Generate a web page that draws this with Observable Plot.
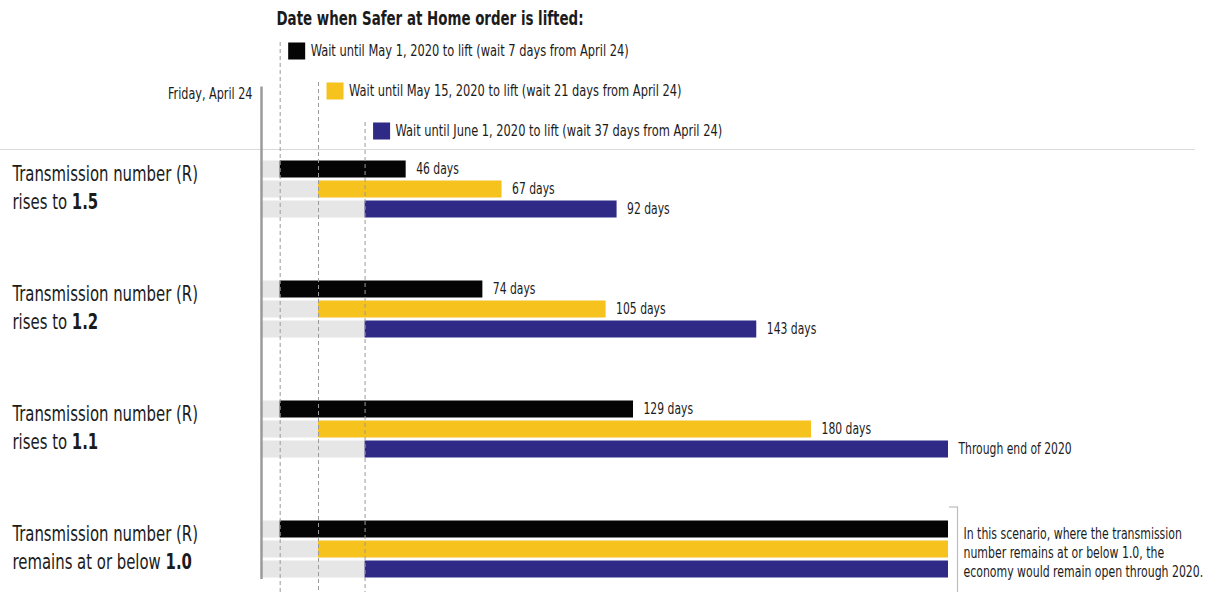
<!DOCTYPE html>
<html><head><meta charset="utf-8">
<script src="https://cdn.jsdelivr.net/npm/d3@7"></script>
<script src="https://cdn.jsdelivr.net/npm/@observablehq/plot@0.6"></script>
<style>
html,body{margin:0;padding:0;background:#fff;}
#chart{position:relative;width:1206px;height:592px;}
#chart svg{display:block;}
</style></head><body>
<div id="chart"></div>
<script>
const FONT = "'DejaVu Sans Condensed','DejaVu Sans',sans-serif";
const SQUEEZE = 0.8;        // horizontal condensing of body lettering
const TITLE_SQUEEZE = 0.745;

// ---- data ----
const originDate = new Date(Date.UTC(2020, 3, 24));   // Friday, April 24
const endOf2020 = new Date(Date.UTC(2020, 11, 31));
const liftDates = [new Date(Date.UTC(2020, 4, 1)), new Date(Date.UTC(2020, 4, 15)), new Date(Date.UTC(2020, 5, 1))];
const liftLabels = [
  "Wait until May 1, 2020 to lift (wait 7 days from April 24)",
  "Wait until May 15, 2020 to lift (wait 21 days from April 24)",
  "Wait until June 1, 2020 to lift (wait 37 days from April 24)"
];
const liftColors = ["#050505", "#F6C21E", "#2E2A86"];
const titleText = "Date when Safer at Home order is lifted:";
const originLabel = "Friday, April 24";
const scenarioLead = "Transmission number (R)";
const scenarioLines = ["rises to 1.5", "rises to 1.2", "rises to 1.1", "remains at or below 1.0"];
const daysR15 = [46, 67, 92];
const daysR12 = [74, 105, 143];
const daysR11 = [129, 180, null];   // null = open through end of 2020
const daysR10 = [null, null, null];
const openLabels = ["", "", "Through end of 2020", ""];
const noteText = "In this scenario, where the transmission\nnumber remains at or below 1.0, the\neconomy would remain open through 2020.";

// ---- table ----
const scenarioDays = [daysR15, daysR12, daysR11, daysR10];
const rowKeys = ["top-0", "top-1"];
liftDates.forEach((d, k) => { rowKeys.push(`legend-${k}`); if (k < liftDates.length - 1) rowKeys.push(`legend-gap-${k}`); });
rowKeys.push("separator");
scenarioDays.forEach((s, g) => {
  s.forEach((_, k) => rowKeys.push(`bar-${g}-${k}`));
  if (g < scenarioDays.length - 1) s.forEach((_, k) => rowKeys.push(`gap-${g}-${k}`));
});
const lastRow = rowKeys[rowKeys.length - 1];

const legend = liftDates.map((date, k) => ({date, row: `legend-${k}`, label: liftLabels[k], color: liftColors[k]}));
const bars = [];
scenarioDays.forEach((days, g) => days.forEach((n, k) => {
  const lift = liftDates[k];
  bars.push({
    row: `bar-${g}-${k}`, origin: originDate, lift,
    end: n == null ? endOf2020 : d3.utcDay.offset(lift, n),
    label: n == null ? openLabels[g] : `${n} days`,
    color: liftColors[k]
  });
}));
const scenarios = scenarioLines.map((line, g) => ({row: `bar-${g}-1`, text: `${scenarioLead}\n${line}`}));

const chart = Plot.plot({
  width: 1206, height: 592,
  marginLeft: 260.5, marginRight: 258, marginTop: 0, marginBottom: 0,
  style: {fontFamily: FONT, fontSize: "15px", color: "#1b1b1b", background: "#fff"},
  x: {type: "utc", domain: [originDate, endOf2020], axis: null},
  y: {type: "band", domain: rowKeys, range: [-1.5, 578.5], padding: 0, axis: null},
  marks: [
    Plot.ruleY(["separator"], {y: d => d, stroke: "#d9d9d9", strokeWidth: 1, insetLeft: -260.5, insetRight: -247}),
    Plot.barX(bars, {x1: "origin", x2: "lift", y: "row", fill: "#e6e6e6", insetTop: 1.5, insetBottom: 1.5}),
    Plot.barX(bars, {x1: "lift", x2: "end", y: "row", fill: "color", insetTop: 1.5, insetBottom: 1.5}),
    Plot.ruleX([originDate], {x: d => d, y1: () => "legend-1", y2: () => lastRow, dx: 0.5, stroke: "#9b9b9b", strokeWidth: 2.5, insetTop: 7.5}),
    Plot.ruleX(legend, {x: "date", y1: "row", y2: () => lastRow, stroke: "#9a9a9a", strokeWidth: 1, strokeDasharray: "4,3", insetTop: 3, insetBottom: -13.5}),
    Plot.dot(legend, {x: "date", y: "row", symbol: "square", r: 9.6, fill: "color", stroke: null, dx: 16.5, dy: 1.5}),
    Plot.text(legend, {x: "date", y: "row", text: "label", dx: 30.5, dy: 1.5, textAnchor: "start", fontSize: 15.9}),
    Plot.text([titleText], {ariaLabel: () => "title", frameAnchor: "top-left", text: d => d, dx: 15.5, dy: 18.5, lineAnchor: "middle", textAnchor: "start", fontSize: 20, fontWeight: "bold"}),
    Plot.text([originLabel], {x: () => originDate, y: () => "legend-1", text: d => d, textAnchor: "end", dx: -8.5, dy: 4.5, fontSize: 15.6}),
    Plot.text(bars.filter(d => d.label), {x: "end", y: "row", text: "label", dx: 10, textAnchor: "start", fontSize: 15}),
    Plot.text(scenarios, {frameAnchor: "left", y: "row", text: "text", dx: -248.5, dy: -3.5, lineHeight: 1.33, textAnchor: "start", fontSize: 20.7}),
    Plot.ruleX([endOf2020], {x: d => d, y1: () => "bar-3-0", y2: () => lastRow, dx: 9, insetTop: -12.5, insetBottom: -14, stroke: "#bdbdbd", strokeWidth: 1.2}),
    Plot.ruleY(["bar-3-0"], {y: d => d, x1: () => endOf2020, x2: () => endOf2020, insetLeft: 1, insetRight: -9.5, dy: -22.5, stroke: "#bdbdbd", strokeWidth: 1.2}),
    Plot.text([noteText], {x: () => endOf2020, y: () => "bar-3-1", text: d => d, dx: 15, dy: 2.5, textAnchor: "start", lineHeight: 1.25, fontSize: 15.2})
  ]
});

// bold the R values in scenario labels
chart.querySelectorAll("tspan").forEach(t => {
  const m = /^(rises to|remains at or below) (\d\.\d)$/.exec(t.textContent);
  if (m) {
    t.textContent = m[1] + " ";
    const b = document.createElementNS("http://www.w3.org/2000/svg", "tspan");
    b.setAttribute("font-weight", "bold");
    b.textContent = m[2];
    t.appendChild(b);
  }
});
// condense the lettering horizontally around each text's anchor
chart.querySelectorAll("text").forEach(t => {
  const k = t.closest('[aria-label="title"]') || t.textContent === titleText ? TITLE_SQUEEZE : SQUEEZE;
  const tr = t.getAttribute("transform") || "";
  t.setAttribute("transform", `${tr} scale(${k},1)`.trim());
});
document.getElementById("chart").appendChild(chart);
</script>
</body></html>
